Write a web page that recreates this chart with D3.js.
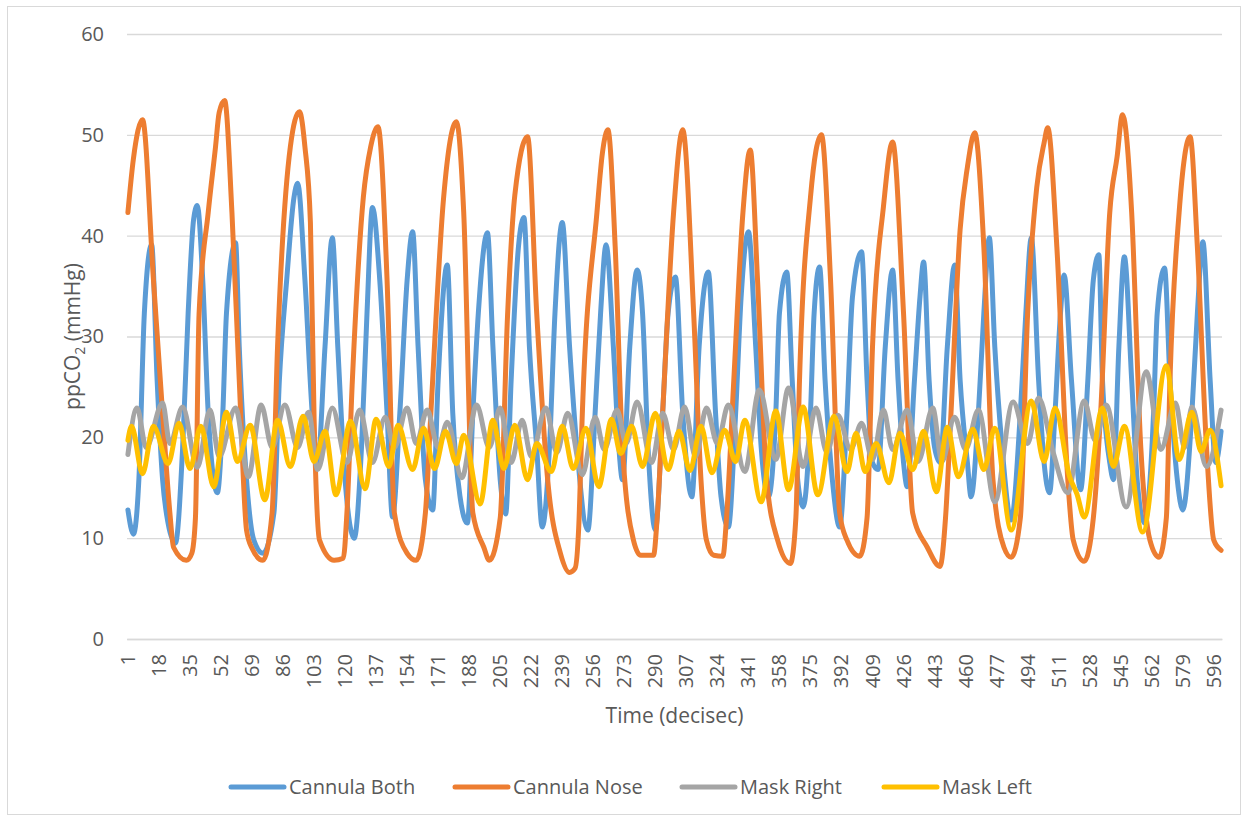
<!DOCTYPE html>
<html>
<head>
  <meta charset="utf-8">
  <script src="https://d3js.org/d3.v7.min.js"></script>
  <style>
    body { margin: 0; background: #fff; }
    text { font-family: "Open Sans", "Liberation Sans", sans-serif; fill: #595959; }
  </style>
</head>
<body>
<script>
// ---- data (turning points of each trace) ----
var categoryCount = 600;
var xTickLabels = [1, 18, 35, 52, 69, 86, 103, 120, 137, 154, 171, 188, 205, 222, 239, 256, 273, 290,
  307, 324, 341, 358, 375, 392, 409, 426, 443, 460, 477, 494, 511, 528, 545, 562, 579, 596];
var yTickLabels = [0, 10, 20, 30, 40, 50, 60];
var seriesNames = ["Cannula Both", "Cannula Nose", "Mask Right", "Mask Left"];

var cannulaBoth = [[1,12.8],[4,10.4],[7,15.8],[10,32.3],[14,39.1],[17,25.7],[20,15.8],[23,11.5],[27,9.5],
  [31,19],[34,32.3],[37,41.6],[39,43],[42,35.6],[45,22.4],[48,15.8],[50,14.5],[53,22.4],[55,32.3],[60,39.3],
  [62,29],[66,15.8],[70,9.8],[75,8.5],[81,12.5],[84,25.7],[88,35.6],[92,43.8],[94,45.2],[98,35.6],[102,22.4],
  [105,17.5],[109,29],[113,39.8],[116,29],[120,15.8],[125,10],[129,19],[132,32.3],[135,42.8],[139,35.6],
  [143,22.4],[146,12.1],[150,22.4],[154,35.6],[157,40.4],[160,29],[164,15.8],[168,12.8],[171,25.7],[176,37.1],
  [179,22.4],[183,14.1],[187,11.5],[190,22.4],[193,32.3],[198,40.3],[201,29],[205,15.8],[208,12.4],[211,25.7],
  [215,38.9],[218,41.8],[221,29],[225,19],[228,11.1],[232,19],[235,32.3],[239,41.3],[243,29],[247,19],
  [253,10.8],[257,22.4],[260,32.3],[263,39.1],[267,29],[270,19],[272,15.8],[276,29],[280,36.6],[283,32.3],
  [286,19],[290,10.8],[294,22.4],[297,32.3],[301,35.9],[305,22.4],[310,14.1],[314,29],[319,36.4],[323,22.4],
  [326,14.1],[330,11.1],[334,22.4],[337,33.9],[341,40.4],[345,29],[348,19],[352,14.1],[356,22.4],[358,32.3],
  [362,36.4],[365,25.7],[368,15.8],[371,13.1],[375,22.4],[377,32.3],[380,36.9],[383,25.7],[387,15.8],
  [391,11.1],[395,22.4],[398,33.9],[403,38.4],[406,25.7],[409,17.5],[412,16.8],[416,29],[420,36.6],[423,25.7],
  [426,17.5],[428,15.1],[432,25.7],[435,33.9],[437,37.4],[440,25.7],[443,19],[446,17.5],[450,29],[454,37.1],
  [457,25.7],[461,17.5],[463,14.1],[467,22.4],[470,32.3],[473,39.8],[476,29],[480,19],[485,11.8],[490,22.4],
  [493,32.3],[496,39.8],[500,25.7],[503,17.5],[506,14.5],[509,22.4],[512,32.3],[514,36.1],[518,25.7],
  [523,14.8],[527,25.7],[530,35.6],[533,38.1],[535,25.7],[539,17.5],[541,15.8],[544,29],[547,37.9],[551,25.7],
  [554,15.8],[558,11.5],[563,22.4],[565,32.3],[569,36.8],[572,25.7],[576,15.8],[579,12.8],[584,22.4],
  [587,32.3],[590,39.4],[594,25.7],[597,17.5],[600,20.6]];

var cannulaNose = [[1,42.3],[4,47.6],[9,51.5],[15,35.6],[20,22.4],[24,12.5],[26,9.1],[33,7.8],[36,8.5],
  [38,12],[40,32.3],[45,42.3],[49,48.8],[51,52.2],[54,53.4],[58,42.3],[62,25.7],[66,10.8],[69,9],[75,7.8],
  [80,12.5],[83,29],[90,48.8],[95,52.3],[98,48.8],[101,41.3],[103,22],[106,9.8],[114,7.8],[119,8],[121,12.5],
  [124,25.7],[130,43.8],[134,48.8],[138,50.8],[143,35.6],[147,12.5],[154,8.5],[159,7.8],[164,12.5],[167,22.4],
  [174,43.8],[181,51.3],[185,42.3],[190,12.5],[196,9.1],[199,7.8],[205,12],[209,32],[213,44],[220,49.8],
  [225,32.3],[231,15.8],[238,8.5],[243,6.6],[246,7],[248,11],[250,22.4],[258,42.3],[261,48.2],[264,50.5],
  [268,38.9],[272,19],[278,9.8],[282,8.3],[289,8.3],[291,12],[294,22.4],[300,42.3],[305,50.5],[311,32.3],
  [315,15.8],[318,9.8],[322,8.3],[327,8.2],[329,12],[333,25.7],[338,42.3],[342,48.5],[346,35.6],[351,15.8],
  [357,9.8],[364,7.5],[367,12],[369,25.7],[375,43.8],[381,50],[386,35.6],[391,12.5],[395,9.8],[402,8.2],
  [406,12],[409,29],[415,42.9],[420,49.3],[426,32.3],[431,12.5],[439,9.1],[446,7.2],[449,12],[452,22.4],
  [457,40.6],[461,46.8],[465,50.2],[470,38.9],[475,15.8],[481,9.1],[485,8.1],[490,12],[494,32.3],[499,44.8],
  [503,49.2],[505,50.7],[510,38.9],[516,15.8],[519,9.8],[525,7.7],[530,12],[534,22.4],[539,42.3],[543,47.8],
  [546,52],[551,42.3],[556,19],[561,9.8],[566,8.1],[570,12],[572,25.7],[577,42.3],[583,49.8],[587,38.9],
  [592,19],[596,9.8],[600,8.8]];

var maskRight = [[1,18.3],[6,22.9],[11,19],[20,23.4],[24,19.4],[31,23],[39,17],[46,22.7],[51,18.1],
  [60,22.9],[67,16.1],[74,23.2],[80,19],[87,23.2],[94,19],[100,22.5],[105,16.8],[113,22.9],[121,17.5],
  [128,22.7],[135,17.5],[142,22],[147,19],[154,22.9],[159,19.4],[165,22.7],[171,19],[176,21.5],[184,16],
  [192,23.2],[199,19],[205,22.9],[211,17.5],[217,21.7],[222,18.1],[230,22.9],[236,18.5],[242,22.4],[250,16.3],
  [257,22],[262,18.8],[269,22.7],[274,19.4],[280,23.5],[288,17.5],[294,22.4],[300,18.8],[306,23],[312,18.1],
  [318,22.9],[324,19.4],[330,23.2],[339,16.6],[347,24.7],[356,17.8],[363,24.9],[371,17.1],[378,22.9],
  [384,18.5],[390,22.2],[397,18.8],[403,21.4],[409,17.8],[415,22.7],[420,18.8],[428,22.7],[434,17.6],
  [442,22.9],[447,17.6],[454,22],[460,18.8],[467,22.7],[476,13.6],[486,23.5],[494,19.4],[500,23.9],
  [508,18.5],[516,14.5],[525,23.6],[531,19.7],[537,23.2],[548,13.1],[559,26.5],[567,18.8],[575,23.4],
  [580,19],[584,23],[592,17.1],[600,22.7]];

var maskLeft = [[1,19.7],[3,21.1],[9,16.4],[15,21.1],[23,17.4],[29,21.4],[35,16.9],[41,21.1],[48,15.1],
  [55,22.5],[61,17.6],[68,21.2],[76,13.8],[83,21.7],[90,17.1],[97,22.1],[103,17.6],[109,20.6],[115,14.3],
  [123,21.6],[131,14.9],[137,21.8],[144,17.1],[149,21.2],[157,16.8],[163,20.9],[169,16.9],[175,20.6],
  [181,17.4],[185,20.2],[194,13.4],[201,21.7],[207,16.9],[213,21.2],[220,15.8],[225,19.4],[233,16.6],
  [239,21.1],[245,16.9],[252,20.9],[259,15.1],[266,21.8],[271,18.4],[277,21.1],[283,17.1],[290,22.4],
  [297,16.8],[303,20.6],[309,16.7],[315,21.1],[321,16.5],[328,20.7],[334,17.6],[339,21.7],[348,13.6],
  [356,22.6],[363,14.8],[371,23],[379,14.3],[388,22.1],[395,16.6],[400,20.4],[405,16.6],[411,19.4],
  [418,15.5],[424,20.4],[431,16.8],[437,20.6],[444,14.6],[450,21],[456,16.1],[464,20.8],[470,16.8],
  [476,20.9],[485,10.8],[496,23.6],[503,17.6],[509,22.9],[517,16.1],[521,14.4],[525,12.1],[535,22.9],
  [541,17.1],[547,21.1],[557,10.6],[570,27.1],[577,17.8],[584,22.5],[589,18.6],[594,20.7],[600,15.2]];

var seriesColors = ["#5B9BD5", "#ED7D31", "#A5A5A5", "#FFC000"];

// ---- setup ----
var width = 1248, height = 822;
var plotLeft = 127, plotRight = 1222, plotTop = 34, plotBottom = 639;

var svg = d3.select("body").append("svg")
  .attr("width", width)
  .attr("height", height);

// chart area border
svg.append("rect")
  .attr("x", 7.5).attr("y", 6.5)
  .attr("width", 1233).attr("height", 808)
  .attr("fill", "none")
  .attr("stroke", "#D9D9D9");

var categories = d3.range(1, categoryCount + 1);
var x = d3.scaleBand().domain(categories).range([plotLeft, plotRight]);
var y = d3.scaleLinear().domain([0, 60]).range([plotBottom, plotTop]);
var cx = function(i) { return x(i) + x.bandwidth() / 2; };

// y gridlines + labels
var yAxis = svg.append("g")
  .attr("transform", "translate(" + plotLeft + ",0)")
  .call(d3.axisLeft(y).tickValues(yTickLabels).tickSize(-(plotRight - plotLeft)).tickPadding(23));
yAxis.select(".domain").remove();
yAxis.selectAll("line").attr("stroke", "#D9D9D9").attr("stroke-width", 1.3);
yAxis.selectAll("text").style("font-size", "20px").attr("fill", "#595959");

// x axis
var xAxis = svg.append("g")
  .attr("transform", "translate(0," + plotBottom + ")")
  .call(d3.axisBottom(x).tickValues(xTickLabels).tickSize(0));
xAxis.select(".domain").attr("stroke", "#D9D9D9").attr("stroke-width", 1.3);
xAxis.selectAll("text")
  .style("font-size", "20px")
  .attr("fill", "#595959")
  .attr("text-anchor", "end")
  .attr("transform", "rotate(-90)")
  .attr("x", -15)
  .attr("y", 0)
  .attr("dy", "0.35em");

// axis titles
svg.append("text")
  .attr("x", (plotLeft + plotRight) / 2)
  .attr("y", 723)
  .attr("text-anchor", "middle")
  .style("font-size", "21px")
  .text("Time (decisec)");

var yTitle = svg.append("text")
  .attr("transform", "translate(80," + ((plotTop + plotBottom) / 2) + ") rotate(-90)")
  .attr("text-anchor", "middle")
  .style("font-size", "21px");
yTitle.append("tspan").text("ppCO");
yTitle.append("tspan").attr("dy", 5).style("font-size", "14px").text("2");
yTitle.append("tspan").attr("dy", -5).text(" (mmHg)");

// lines
var line = d3.line()
  .x(function(d) { return cx(d[0]); })
  .y(function(d) { return y(d[1]); })
  .curve(d3.curveMonotoneX);

var allSeries = [cannulaBoth, cannulaNose, maskRight, maskLeft];
svg.append("g").selectAll("path")
  .data(allSeries)
  .join("path")
  .attr("d", line)
  .attr("fill", "none")
  .attr("stroke", function(d, i) { return seriesColors[i]; })
  .attr("stroke-width", 5)
  .attr("stroke-linejoin", "round")
  .attr("stroke-linecap", "round");

// legend
var legendX = [231, 455, 682, 884];
var legend = svg.append("g").selectAll("g")
  .data(seriesNames)
  .join("g")
  .attr("transform", function(d, i) { return "translate(" + legendX[i] + ",787)"; });
legend.append("line")
  .attr("x1", 0).attr("x2", 53)
  .attr("stroke", function(d, i) { return seriesColors[i]; })
  .attr("stroke-width", 5)
  .attr("stroke-linecap", "round");
legend.append("text")
  .attr("x", 58)
  .attr("dy", "0.35em")
  .style("font-size", "20px")
  .text(function(d) { return d; });
</script>
</body>
</html>
